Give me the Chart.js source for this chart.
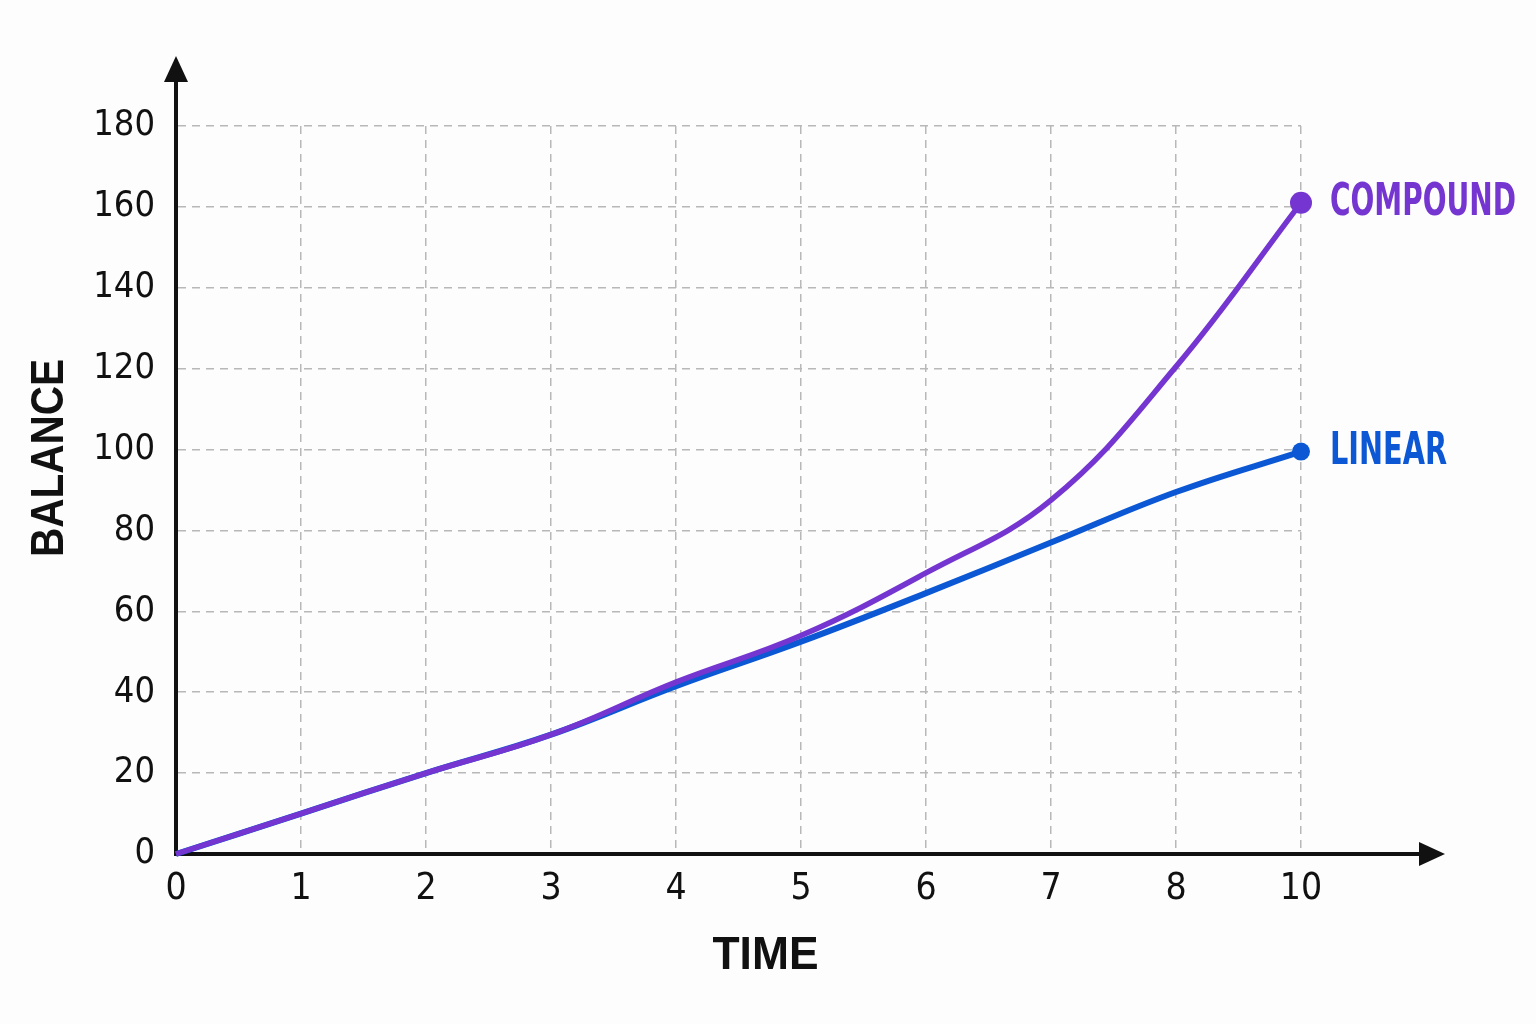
<!DOCTYPE html>
<html>
<head>
<meta charset="utf-8">
<script src="https://cdn.jsdelivr.net/npm/chart.js@4.4.1/dist/chart.umd.min.js"></script>
<style>
  html, body { margin: 0; padding: 0; background: #fdfdfd; }
  #wrap { width: 1536px; height: 1024px; }
</style>
</head>
<body>
<div id="wrap"><canvas id="c" width="1536" height="1024"></canvas></div>
<script>
// ---- data ----
const timeLabels = ['0', '1', '2', '3', '4', '5', '6', '7', '8', '10'];
const linearValues = [0, 10, 20, 29.5, 41.5, 52.5, 64.5, 77, 89.5, 99.5];
const compoundValues = [0, 10, 20, 29.5, 42.5, 54, 69.5, 87.5, 120.5, 161];
const seriesNames = ['LINEAR', 'COMPOUND'];
const yTickMin = 0, yTickMax = 180, yTickStep = 20;
const xAxisTitle = 'TIME';
const yAxisTitle = 'BALANCE';

const COL_LINEAR = '#0b57d4';
const COL_COMPOUND = '#7535d0';
const TICK_FONT = "'Liberation Sans Narrow', 'DejaVu Sans Condensed', 'Roboto', sans-serif";

const lastIdx = timeLabels.length - 1;

const decorPlugin = {
  id: 'decor',
  beforeDraw(chart) {
    const ctx = chart.ctx;
    ctx.save();
    ctx.fillStyle = '#fdfdfd';
    ctx.fillRect(0, 0, chart.width, chart.height);
    ctx.restore();
  },
  afterDraw(chart) {
    const ctx = chart.ctx;
    const ca = chart.chartArea;
    ctx.save();
    // axis extensions with arrowheads
    ctx.strokeStyle = '#111';
    ctx.fillStyle = '#111';
    ctx.lineWidth = 4;
    ctx.beginPath();
    ctx.moveTo(ca.left, ca.top + 2);
    ctx.lineTo(ca.left, 76);
    ctx.stroke();
    ctx.beginPath();
    ctx.moveTo(ca.left, 56);
    ctx.lineTo(ca.left - 12, 82);
    ctx.lineTo(ca.left + 12, 82);
    ctx.closePath();
    ctx.fill();
    ctx.beginPath();
    ctx.moveTo(ca.right - 2, ca.bottom);
    ctx.lineTo(1424, ca.bottom);
    ctx.stroke();
    ctx.beginPath();
    ctx.moveTo(1445, ca.bottom);
    ctx.lineTo(1419, ca.bottom - 12);
    ctx.lineTo(1419, ca.bottom + 12);
    ctx.closePath();
    ctx.fill();

    // axis titles
    ctx.fillStyle = '#111';
    ctx.font = "bold 46px 'Liberation Sans', 'DejaVu Sans', sans-serif";
    ctx.textAlign = 'center';
    ctx.textBaseline = 'middle';
    ctx.fillText(xAxisTitle, (ca.left + ca.right) / 2 + 27, 956, 106);
    ctx.save();
    ctx.translate(50, 458);
    ctx.rotate(-Math.PI / 2);
    ctx.fillText(yAxisTitle, 0, 0, 198);
    ctx.restore();

    // end labels
    chart.data.datasets.forEach((ds, i) => {
      const meta = chart.getDatasetMeta(i);
      const pt = meta.data[lastIdx];
      if (!pt) return;
      ctx.fillStyle = ds.borderColor;
      ctx.font = "bold 44px " + TICK_FONT;
      ctx.textAlign = 'left';
      ctx.textBaseline = 'middle';
      const mw = ds.label === 'COMPOUND' ? 186 : 117;
      ctx.fillText(ds.label, pt.x + 29, pt.y + 1, mw);
    });
    ctx.restore();
  }
};

new Chart(document.getElementById('c'), {
  type: 'line',
  data: {
    labels: timeLabels,
    datasets: [
      {
        label: seriesNames[0],
        data: linearValues,
        borderColor: COL_LINEAR,
        backgroundColor: COL_LINEAR,
        borderWidth: 6,
        tension: 0.4,
        pointRadius: ctx => ctx.dataIndex === lastIdx ? 9 : 0,
        pointHoverRadius: 0,
        pointBorderWidth: 0,
        clip: false,
        order: 2
      },
      {
        label: seriesNames[1],
        data: compoundValues,
        borderColor: COL_COMPOUND,
        backgroundColor: COL_COMPOUND,
        borderWidth: 5.5,
        tension: 0.4,
        pointRadius: ctx => ctx.dataIndex === lastIdx ? 11 : 0,
        pointHoverRadius: 0,
        pointBorderWidth: 0,
        clip: false,
        order: 1
      }
    ]
  },
  options: {
    responsive: false,
    devicePixelRatio: 1,
    animation: false,
    events: [],
    layout: { padding: { top: 126, right: 235, left: 0, bottom: 0 } },
    plugins: { legend: { display: false }, tooltip: { enabled: false } },
    scales: {
      x: {
        type: 'category',
        offset: false,
        afterFit(scale) { scale.height = 170; },
        grid: { color: '#b8b8b8', lineWidth: 1.5, drawTicks: false },
        border: { display: true, color: '#111', width: 4, dash: [8, 6] },
        ticks: {
          color: '#111',
          font: { family: TICK_FONT, size: 37 },
          padding: 13,
          maxRotation: 0,
          autoSkip: false
        }
      },
      y: {
        min: yTickMin,
        max: yTickMax,
        afterFit(scale) { scale.width = 176; },
        grid: { color: '#b8b8b8', lineWidth: 1.5, drawTicks: false },
        border: { display: true, color: '#111', width: 4, dash: [8, 6] },
        ticks: {
          stepSize: yTickStep,
          color: '#111',
          font: { family: TICK_FONT, size: 36 },
          padding: 21
        }
      }
    }
  },
  plugins: [decorPlugin]
});
</script>
</body>
</html>
